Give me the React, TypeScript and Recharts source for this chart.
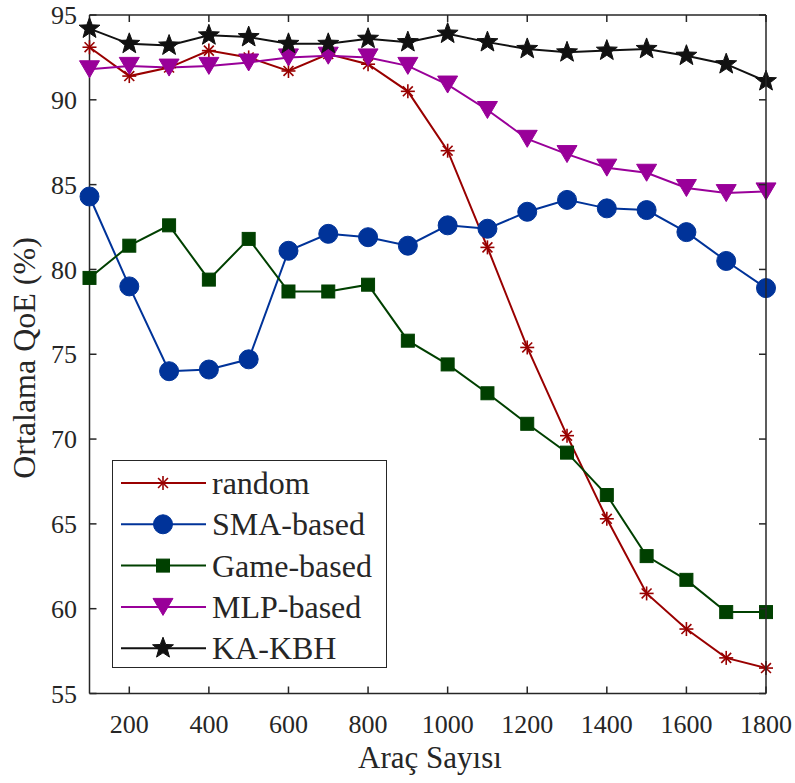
import { LineChart, Line, XAxis, YAxis, Legend } from "recharts";

// vehicle counts on the x axis
const vehicles = [100, 200, 300, 400, 500, 600, 700, 800, 900, 1000, 1100, 1200, 1300, 1400, 1500, 1600, 1700, 1800];

// average QoE (%) per method
const randomQoE = [93.1, 91.4, 91.9, 92.9, 92.5, 91.7, 92.7, 92.1, 90.5, 87.0, 81.3, 75.4, 70.2, 65.3, 60.9, 58.8, 57.1, 56.5];
const smaQoE = [84.3, 79.0, 74.0, 74.1, 74.7, 81.1, 82.1, 81.9, 81.4, 82.6, 82.4, 83.4, 84.1, 83.6, 83.5, 82.2, 80.5, 78.9];
const gameQoE = [79.5, 81.4, 82.6, 79.4, 81.8, 78.7, 78.7, 79.1, 75.8, 74.4, 72.7, 70.9, 69.2, 66.7, 63.1, 61.7, 59.8, 59.8];
const mlpQoE = [91.8, 92.0, 91.9, 92.0, 92.2, 92.5, 92.6, 92.5, 92.0, 90.9, 89.4, 87.7, 86.8, 86.0, 85.7, 84.8, 84.5, 84.6];
const kakbhQoE = [94.2, 93.3, 93.2, 93.8, 93.7, 93.3, 93.3, 93.6, 93.4, 93.9, 93.4, 93.0, 92.8, 92.9, 93.0, 92.6, 92.1, 91.1];

const xTicks = [200, 400, 600, 800, 1000, 1200, 1400, 1600, 1800];
const yTicks = [55, 60, 65, 70, 75, 80, 85, 90, 95];

const X_MIN = 100;
const X_MAX = 1800;
const Y_MIN = 55;
const Y_MAX = 95;

const FONT = '"Liberation Serif", "Times New Roman", serif';
const AXIS = "#262626";

// chart box
const W = 795;
const H = 783;
const M = { top: 15, right: 29, bottom: 0, left: 0 };
const Y_AXIS_W = 89.5;
const X_AXIS_H = 89.5;
const PLOT_L = M.left + Y_AXIS_W;
const PLOT_T = M.top;
const PLOT_W = W - M.left - M.right - Y_AXIS_W;
const PLOT_H = H - M.top - M.bottom - X_AXIS_H;
const TICK_PX = 7;

type MarkerKind = "asterisk" | "circle" | "square" | "triangle" | "star";

const series: { key: string; name: string; color: string; marker: MarkerKind; values: number[] }[] = [
  { key: "random", name: "random", color: "#990000", marker: "asterisk", values: randomQoE },
  { key: "sma", name: "SMA-based", color: "#003399", marker: "circle", values: smaQoE },
  { key: "game", name: "Game-based", color: "#004000", marker: "square", values: gameQoE },
  { key: "mlp", name: "MLP-based", color: "#990099", marker: "triangle", values: mlpQoE },
  { key: "kakbh", name: "KA-KBH", color: "#111111", marker: "star", values: kakbhQoE },
];

const rows = vehicles.map((v, i) => {
  const row: Record<string, number> = { vehicles: v };
  series.forEach((s) => (row[s.key] = s.values[i]));
  return row;
});

function Marker({ kind, cx, cy, color }: { kind: MarkerKind; cx: number; cy: number; color: string }) {
  if (cx == null || cy == null) return null;
  switch (kind) {
    case "circle":
      return <circle cx={cx} cy={cy} r={9.5} fill={color} stroke={color} />;
    case "square":
      return <rect x={cx - 6.5} y={cy - 6.5} width={13} height={13} fill={color} stroke={color} />;
    case "triangle":
      return (
        <polygon
          points={`${cx - 10},${cy - 8.5} ${cx + 10},${cy - 8.5} ${cx},${cy + 8.5}`}
          fill={color}
          stroke={color}
        />
      );
    case "star": {
      const pts: string[] = [];
      for (let k = 0; k < 10; k++) {
        const a = ((-90 + k * 36) * Math.PI) / 180;
        const r = k % 2 === 0 ? 11 : 4.6;
        pts.push(`${cx + r * Math.cos(a)},${cy + r * Math.sin(a)}`);
      }
      return <polygon points={pts.join(" ")} fill={color} stroke={color} strokeWidth={1} />;
    }
    default: {
      const r = 7;
      const d = r * 0.7071;
      return (
        <g stroke={color} strokeWidth={1.6}>
          <line x1={cx - r} y1={cy} x2={cx + r} y2={cy} />
          <line x1={cx} y1={cy - r} x2={cx} y2={cy + r} />
          <line x1={cx - d} y1={cy - d} x2={cx + d} y2={cy + d} />
          <line x1={cx - d} y1={cy + d} x2={cx + d} y2={cy - d} />
        </g>
      );
    }
  }
}

// legend box in the lower left of the plot
const LegendBox = () => (
  <div
    style={{
      width: 275,
      height: 208,
      border: `1.5px solid ${AXIS}`,
      background: "#fff",
      boxSizing: "border-box",
    }}
  >
    <svg width={272} height={205} style={{ display: "block" }}>
      {series.map((s, i) => {
        const y = 22 + i * 41.3;
        return (
          <g key={s.key}>
            <line x1={8} y1={y} x2={93} y2={y} stroke={s.color} strokeWidth={2} />
            <Marker kind={s.marker} cx={50} cy={y} color={s.color} />
            <text x={99} y={y + 11} fontFamily={FONT} fontSize={32} fill={AXIS}>
              {s.name}
            </text>
          </g>
        );
      })}
    </svg>
  </div>
);

// top/right half of the MATLAB-style box, with inward ticks (drawn above the chart)
const BoxFrame = () => {
  const right = PLOT_L + PLOT_W;
  const bottom = PLOT_T + PLOT_H;
  const tx = (v: number) => PLOT_L + ((v - X_MIN) / (X_MAX - X_MIN)) * PLOT_W;
  const ty = (v: number) => PLOT_T + ((Y_MAX - v) / (Y_MAX - Y_MIN)) * PLOT_H;
  return (
    <svg
      width={W}
      height={H}
      style={{ position: "absolute", left: 0, top: 0, zIndex: 10, pointerEvents: "none", overflow: "visible" }}
    >
      <g stroke={AXIS} strokeWidth={1.5} fill="none">
        <line x1={PLOT_L} y1={PLOT_T} x2={right} y2={PLOT_T} />
        <line x1={right} y1={PLOT_T} x2={right} y2={bottom} />
        {xTicks.map((t) => (
          <line key={`t${t}`} x1={tx(t)} y1={PLOT_T} x2={tx(t)} y2={PLOT_T + TICK_PX} />
        ))}
        {yTicks.map((t) => (
          <line key={`r${t}`} x1={right} y1={ty(t)} x2={right - TICK_PX} y2={ty(t)} />
        ))}
      </g>
    </svg>
  );
};

export default function App() {
  return (
    <div style={{ position: "absolute", left: 0, top: 0, width: W, height: H, background: "#fff" }}>
      <LineChart width={W} height={H} data={rows} margin={M}>
        <XAxis
          dataKey="vehicles"
          type="number"
          domain={[X_MIN, X_MAX]}
          ticks={xTicks}
          interval={0}
          height={X_AXIS_H}
          tickSize={-TICK_PX}
          tickMargin={28}
          stroke={AXIS}
          strokeWidth={1.5}
          tick={{ fill: AXIS, fontSize: 26, fontFamily: FONT }}
          label={{
            content: () => (
              <text x={430} y={768} textAnchor="middle" fontFamily={FONT} fontSize={31} fill={AXIS}>
                Araç Sayısı
              </text>
            ),
          }}
        />
        <YAxis
          type="number"
          domain={[Y_MIN, Y_MAX]}
          ticks={yTicks}
          interval={0}
          width={Y_AXIS_W}
          tickSize={-TICK_PX}
          tickMargin={19.5}
          stroke={AXIS}
          strokeWidth={1.5}
          tick={{ fill: AXIS, fontSize: 26, fontFamily: FONT }}
          label={{
            content: () => (
              <text
                x={35}
                y={358}
                transform="rotate(-90 35 358)"
                textAnchor="middle"
                fontFamily={FONT}
                fontSize={32}
                fill={AXIS}
              >
                Ortalama QoE (%)
              </text>
            ),
          }}
        />
        <Legend
          verticalAlign="middle"
          align="center"
          content={<LegendBox />}
          wrapperStyle={{ left: 112, top: 460, width: 275, height: 208 }}
        />
        {series.map((s) => (
          <Line
            key={s.key}
            dataKey={s.key}
            name={s.name}
            type="linear"
            stroke={s.color}
            strokeWidth={2}
            isAnimationActive={false}
            dot={(p: any) => (
              <Marker key={`${s.key}-${p.index}`} kind={s.marker} cx={p.cx} cy={p.cy} color={s.color} />
            )}
            activeDot={false}
          />
        ))}
      </LineChart>
      <BoxFrame />
    </div>
  );
}
